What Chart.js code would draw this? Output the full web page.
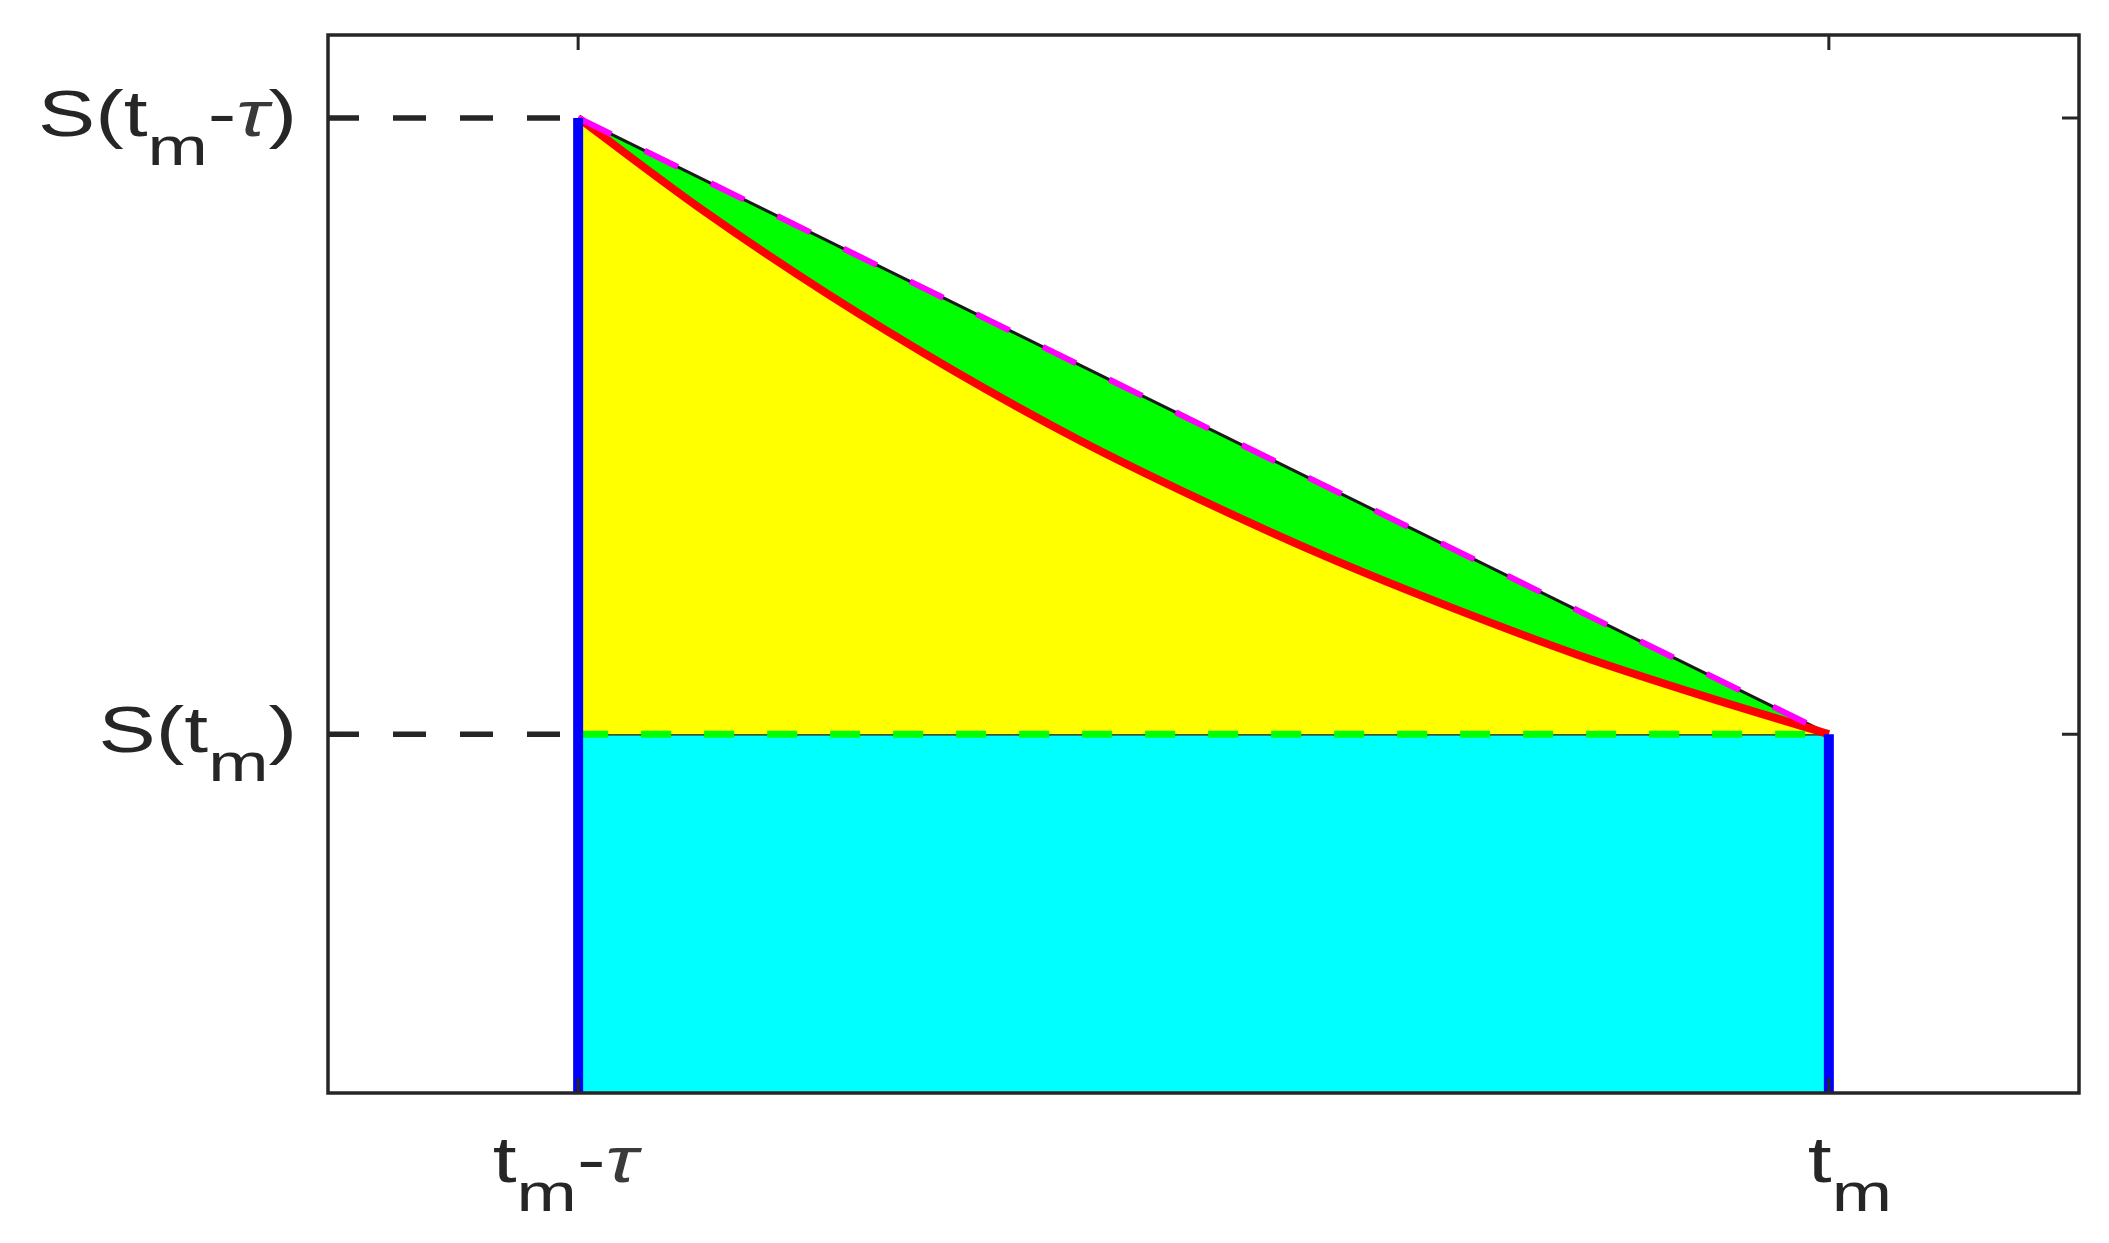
<!DOCTYPE html>
<html>
<head>
<meta charset="utf-8">
<style>
  html, body { margin: 0; padding: 0; background: #fff; }
  #chart { display: block; }
</style>
<script src="https://cdn.jsdelivr.net/npm/chart.js@4.4.1/dist/chart.umd.min.js"></script>
</head>
<body>
<canvas id="chart" width="2109" height="1243"></canvas>
<script>
// time axis: 0 = t_m - tau, 1 = t_m
const xRange = [-0.2, 1.2];
const yRange = [0, 1.085];
const xTicks = [0, 1];
const xTickLabels = ["t_m-\\tau", "t_m"];
const yTicks = [0.368, 1];
const yTickLabels = ["S(t_m)", "S(t_m-\\tau)"];

// red curve S(t)
const curveT = [0, 0.1, 0.2, 0.3, 0.4, 0.5, 0.6, 0.7, 0.8, 0.9, 1];
const curveS = [1, 0.905, 0.819, 0.741, 0.670, 0.607, 0.549, 0.497, 0.449, 0.407, 0.368];

// straight chord between the two end values
const chordT = [0, 1];
const chordS = [1, 0.368];

// level S(t_m)
const baseT = [0, 1];
const baseS = [0.368, 0.368];

// blue verticals
const leftT = [0, 0];
const leftS = [0, 1];
const rightT = [1, 1];
const rightS = [0, 0.368];

// black dashed guides to the y axis
const guideTopT = [-0.2, 0];
const guideTopS = [1, 1];
const guideBotT = [-0.2, 0];
const guideBotS = [0.368, 0.368];

const pts = (xs, ys) => xs.map((x, i) => ({ x, y: ys[i] }));

const INK = "#262626";
const H_SCALE = 1.34; // the original text is stretched sideways

/* draw a tiny TeX-ish label: _x subscript, \tau greek */
function texPieces(str) {
  const out = [];
  let buf = "";
  let i = 0;
  while (i < str.length) {
    if (str[i] === "_") {
      if (buf) out.push({ t: buf });
      buf = "";
      out.push({ t: str[i + 1], sub: true });
      i += 2;
    } else if (str.startsWith("\\tau", i)) {
      if (buf) out.push({ t: buf });
      buf = "";
      out.push({ t: "\u03C4", greek: true });
      i += 4;
    } else {
      buf += str[i];
      i++;
    }
  }
  if (buf) out.push({ t: buf });
  return out;
}

const fontFor = p => p.sub ? '54px "Liberation Sans", Arial, sans-serif'
  : p.greek ? 'italic 64px "Liberation Sans", Arial, sans-serif'
  : '64px "Liberation Sans", Arial, sans-serif';

function texWidth(ctx, pieces) {
  let w = 0;
  pieces.forEach(p => { ctx.font = fontFor(p); w += ctx.measureText(p.t).width; });
  return w * H_SCALE;
}

function drawTex(ctx, str, left, baseline) {
  const pieces = texPieces(str);
  ctx.save();
  ctx.translate(left, 0);
  ctx.scale(H_SCALE, 1);
  ctx.fillStyle = INK;
  ctx.textBaseline = "alphabetic";
  ctx.textAlign = "left";
  let cx = 0;
  pieces.forEach(p => {
    ctx.font = fontFor(p);
    ctx.fillStyle = p.greek ? "#3a3a3a" : INK;
    ctx.fillText(p.t, cx, p.sub ? baseline + 29 : baseline);
    cx += ctx.measureText(p.t).width;
  });
  ctx.restore();
}

const framePlugin = {
  id: "frame",
  afterDatasetsDraw(chart) {
    const { ctx, chartArea: a, scales: { x, y } } = chart;
    ctx.save();
    ctx.strokeStyle = INK;
    ctx.lineWidth = 3.5;
    ctx.strokeRect(a.left, a.top, a.right - a.left, a.bottom - a.top);

    // inward ticks on all four sides
    ctx.lineWidth = 3;
    ctx.beginPath();
    xTicks.forEach(v => {
      const px = x.getPixelForValue(v);
      ctx.moveTo(px, a.bottom); ctx.lineTo(px, a.bottom - 15);
      ctx.moveTo(px, a.top); ctx.lineTo(px, a.top + 15);
    });
    yTicks.forEach(v => {
      const py = y.getPixelForValue(v);
      ctx.moveTo(a.left, py); ctx.lineTo(a.left + 17, py);
      ctx.moveTo(a.right, py); ctx.lineTo(a.right - 17, py);
    });
    ctx.stroke();
    ctx.restore();

    // tick labels
    const xShift = [-13, 21];
    xTicks.forEach((v, i) => {
      const w = texWidth(ctx, texPieces(xTickLabels[i]));
      const px = x.getPixelForValue(v);
      drawTex(ctx, xTickLabels[i], px - w / 2 + xShift[i], a.bottom + 89);
    });
    yTicks.forEach((v, i) => {
      const w = texWidth(ctx, texPieces(yTickLabels[i]));
      const py = y.getPixelForValue(v);
      drawTex(ctx, yTickLabels[i], a.left - 31 - w, py + 18);
    });
  }
};

const line = (data, extra) => Object.assign({
  type: "line",
  data,
  pointRadius: 0,
  fill: false,
  tension: 0,
  borderWidth: 2,
  borderColor: "#000"
}, extra);

new Chart(document.getElementById("chart"), {
  type: "line",
  data: {
    datasets: [
      // 0: cyan block under S(t_m)
      line(pts(baseT, baseS), { fill: "origin", backgroundColor: "#00FFFF", borderColor: "#1a1a1a", borderWidth: 2.5, order: 30 }),
      // 1: yellow area between curve and S(t_m)
      line(pts(curveT, curveS), { fill: 0, backgroundColor: "#FFFF00", borderWidth: 0, borderColor: "rgba(0,0,0,0)", cubicInterpolationMode: "monotone", order: 29 }),
      // 2: green area between chord and curve
      line(pts(chordT, chordS), { fill: 1, backgroundColor: "#00FF00", borderColor: "#1a1a1a", borderWidth: 3, order: 28 }),
      // red curve
      line(pts(curveT, curveS), { borderColor: "#FF0000", borderWidth: 8, cubicInterpolationMode: "monotone", order: 6 }),
      // magenta dashed chord
      line(pts(chordT, chordS), { borderColor: "#FF00FF", borderWidth: 6, borderDash: [37, 37], order: 5 }),
      // green dashed level
      line(pts(baseT, baseS), { borderColor: "#00FF00", borderWidth: 7, borderDash: [30, 33], order: 4 }),
      // blue verticals
      line(pts(leftT, leftS), { borderColor: "#0000FF", borderWidth: 10, order: 3 }),
      line(pts(rightT, rightS), { borderColor: "#0000FF", borderWidth: 10, order: 3 }),
      // black dashed guides
      line(pts(guideTopT, guideTopS), { borderColor: INK, borderWidth: 5.5, borderDash: [33, 34], borderDashOffset: 2, order: 2 }),
      line(pts(guideBotT, guideBotS), { borderColor: INK, borderWidth: 5.5, borderDash: [33, 34], borderDashOffset: 2, order: 2 })
    ]
  },
  options: {
    responsive: false,
    animation: false,
    events: [],
    layout: { padding: { left: 328, right: 30, top: 35, bottom: 150 } },
    scales: {
      x: { type: "linear", min: xRange[0], max: xRange[1], display: false },
      y: { type: "linear", min: yRange[0], max: yRange[1], display: false }
    },
    plugins: {
      legend: { display: false },
      tooltip: { enabled: false },
      filler: { propagate: false }
    }
  },
  plugins: [framePlugin]
});
</script>
</body>
</html>
